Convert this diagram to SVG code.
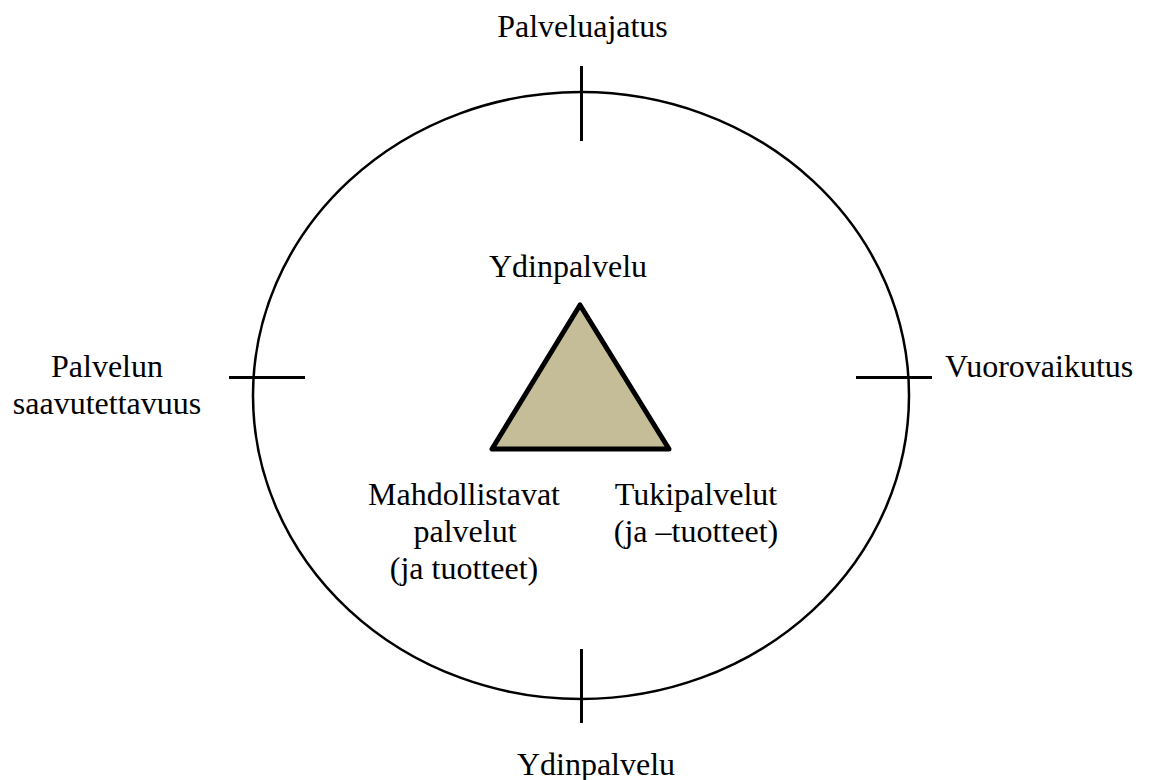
<svg xmlns="http://www.w3.org/2000/svg" width="1152" height="780" viewBox="0 0 1152 780">
  <style>
    .lbl { font-family: "Liberation Serif", "Times New Roman", serif; font-size: 32px; fill: #000; }
    .mid { text-anchor: middle; }
    .tick { stroke: #000; stroke-width: 3; fill: none; }
  </style>
  <rect width="1152" height="780" fill="#fff"/>

  <!-- outer service ring -->
  <g id="ring">
    <ellipse cx="581" cy="395.5" rx="328" ry="303.5" fill="none" stroke="#000" stroke-width="2.5"/>
  </g>

  <!-- tick marks on the ring -->
  <g id="ticks">
    <line class="tick" x1="581.5" y1="66" x2="581.5" y2="141"/>
    <line class="tick" x1="581.5" y1="649" x2="581.5" y2="723"/>
    <line class="tick" x1="229" y1="377.5" x2="305" y2="377.5"/>
    <line class="tick" x1="856" y1="377.5" x2="932" y2="377.5"/>
  </g>

  <!-- core service triangle -->
  <g id="core">
    <polygon points="580,305 492,449 669,449" fill="#C4BD97" stroke="#000" stroke-width="5" stroke-linejoin="round"/>
  </g>

  <g id="label-top">
    <text class="lbl mid" x="582.5" y="37">Palveluajatus</text>
  </g>
  <g id="label-bottom">
    <text class="lbl mid" x="596" y="775">Ydinpalvelu</text>
  </g>
  <g id="label-left">
    <text class="lbl mid" x="107" y="377">Palvelun</text>
    <text class="lbl mid" x="107" y="414">saavutettavuus</text>
  </g>
  <g id="label-right">
    <text class="lbl" x="945" y="377">Vuorovaikutus</text>
  </g>
  <g id="label-apex">
    <text class="lbl mid" x="568" y="277">Ydinpalvelu</text>
  </g>
  <g id="label-enabling">
    <text class="lbl mid" x="464" y="505">Mahdollistavat</text>
    <text class="lbl mid" x="465" y="542">palvelut</text>
    <text class="lbl mid" x="464" y="579">(ja tuotteet)</text>
  </g>
  <g id="label-support">
    <text class="lbl mid" x="696" y="505">Tukipalvelut</text>
    <text class="lbl mid" x="696" y="542">(ja –tuotteet)</text>
  </g>
</svg>
